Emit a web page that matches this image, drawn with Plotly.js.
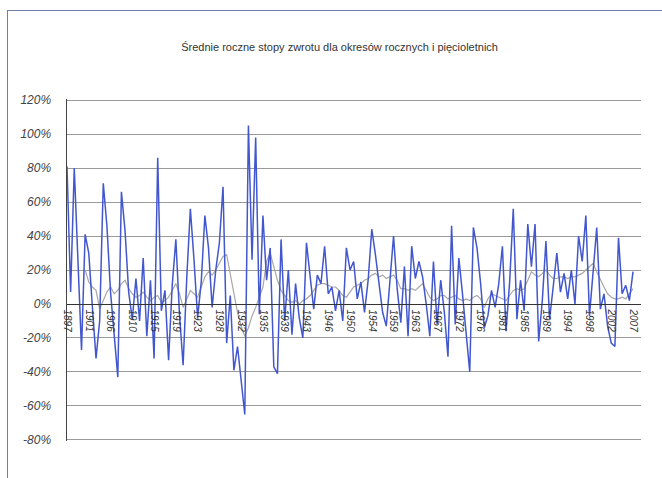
<!DOCTYPE html>
<html>
<head>
<meta charset="utf-8">
<script src="https://cdn.plot.ly/plotly-3.0.1.min.js"></script>
<style>
html,body{margin:0;padding:0;background:#fff;}
#wrap{position:relative;width:662px;height:478px;overflow:hidden;background:#fff;}
#frame{position:absolute;left:7px;top:10px;width:670px;height:480px;border-left:1px solid #6f80a8;border-top:1px solid #6f80a8;pointer-events:none;z-index:5;}
#chart{position:absolute;left:0;top:0;width:662px;height:478px;}
</style>
</head>
<body>
<div id="wrap"><div id="chart"></div><div id="frame"></div></div>
<script>
// Category tick labels (every 6th observation)
const tickLabels = ["1897","1901","1906","1910","1915","1919","1923","1928","1932","1935","1939","1943","1946","1950","1954","1959","1963","1967","1972","1976","1981","1985","1989","1994","1998","2002","2007"];

// Y-axis tick values (%)
const yTicks = [-80,-60,-40,-20,0,20,40,60,80,100,120];

// Annual rate of return (%)
const annualReturn = [81,7,80,28,-27,41,30,-2,-32,-10,71,46,7,-18,-43,66,43,7,-9,15,-10,27,-19,14,-32,86,-4,8,-33,11,38,-6,-36,15,56,26,-8,13,52,33,-2,20,36,69,-23,5,-39,-25,-45,-65,105,26,98,-6,52,14,33,-37,-41,38,-10,20,-18,12,-8,-20,36,16,-3,17,12,34,6,10,-4,8,-10,33,20,25,3,13,-5,14,44,29,13,-5,-13,14,40,9,-11,22,-19,34,15,25,16,0,-19,25,-12,14,-5,-31,46,-12,27,6,-15,-40,45,33,12,-14,-7,8,-2,12,34,-16,13,56,-9,14,-4,47,22,47,-22,2,37,-9,10,30,7,18,3,20,0,40,25,52,-7,18,45,-3,6,-13,-23,-25,39,6,11,2,19];

// Five-year average annual rate of return (%)
const fiveYearReturn = [null,null,null,null,null,20,13,10,8,-3,2,7,10,6,8,12,14,9,6,4,5,7,4,2,4,5,1,2,4,8,12,6,-2,3,8,6,4,10,16,19,17,20,24,28,29,18,8,-5,-13,-19,-14,-7,-2,4,10,25,30,22,14,8,5,2,1,2,0,2,3,5,8,11,12,12,11,10,10,8,5,4,7,10,11,12,14,15,17,18,16,17,15,16,17,14,9,9,8,9,8,10,12,8,4,2,3,5,5,3,4,5,3,2,3,2,4,5,3,-2,3,6,5,4,3,2,5,8,9,8,9,14,19,17,16,18,20,17,15,15,16,16,15,16,16,17,18,20,22,24,19,14,10,6,4,3,3,4,3,6,9];

const idx = annualReturn.map((_, i) => i);
const tickIdx = tickLabels.map((_, k) => k * 6);
const yRange = [-80.6, 120.6];
const zeroPos = (0 - yRange[0]) / (yRange[1] - yRange[0]);

const traces = [
  {
    x: idx, y: fiveYearReturn, type: 'scatter', mode: 'lines',
    line: {color: '#a8a8a8', width: 1.2}, connectgaps: false,
    hoverinfo: 'skip', showlegend: false
  },
  {
    x: idx, y: annualReturn, type: 'scatter', mode: 'lines',
    line: {color: '#4257cf', width: 1.5},
    hoverinfo: 'skip', showlegend: false
  }
];

const layout = {
  width: 662, height: 478,
  margin: {l: 67, r: 21, t: 99, b: 37},
  paper_bgcolor: '#ffffff', plot_bgcolor: '#ffffff',
  title: {
    text: 'Średnie roczne stopy zwrotu dla okresów rocznych i pięcioletnich',
    font: {family: 'Liberation Sans, Arial, sans-serif', size: 11, color: '#333333'},
    x: 0.513, xanchor: 'center', y: 0.902, yanchor: 'middle'
  },
  xaxis: {
    range: [0, 158.2],
    anchor: 'free', position: zeroPos,
    tickmode: 'array', tickvals: tickIdx, ticktext: tickLabels,
    tickangle: 90,
    tickfont: {family: 'Liberation Sans, Arial, sans-serif', size: 10, color: '#333333', style: 'italic'},
    ticklabelstandoff: 2,
    showgrid: false, zeroline: false,
    showline: true, linecolor: '#333333', linewidth: 1.5,
    ticks: '', ticklen: 0, fixedrange: true
  },
  yaxis: {
    range: yRange,
    tickmode: 'array',
    tickvals: yTicks,
    ticktext: yTicks.map(v => v + '%'),
    tickfont: {family: 'Liberation Sans, Arial, sans-serif', size: 12, color: '#444444', style: 'italic'},
    ticklabelstandoff: 12,
    showgrid: true, gridcolor: '#9a9a9a', gridwidth: 1,
    zeroline: false,
    showline: true, linecolor: '#444444', linewidth: 1.5,
    ticks: '', fixedrange: true
  },
  showlegend: false
};

Plotly.newPlot('chart', traces, layout, {displayModeBar: false, staticPlot: true});
</script>
</body>
</html>
